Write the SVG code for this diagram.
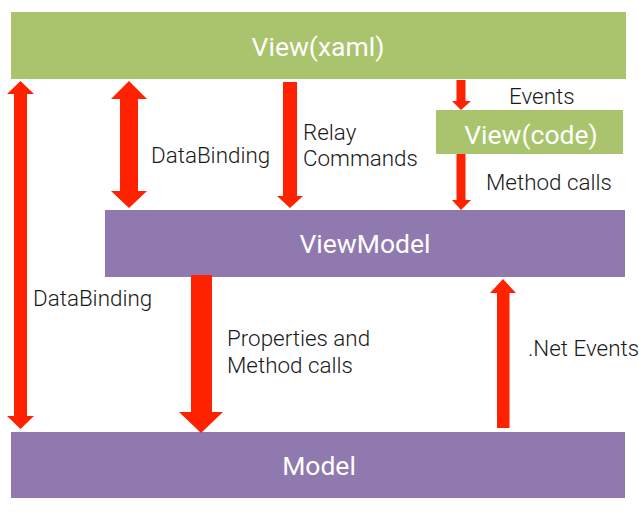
<svg xmlns="http://www.w3.org/2000/svg" width="639" height="513" viewBox="0 0 639 513">
<style>
.green{fill:#A9C46C}
.purple{fill:#9079AE}
.arrow{fill:#FF2200}
.title{font-family:Roboto,"Liberation Sans",sans-serif;font-size:26.5px;fill:#FFFFFF;text-anchor:middle}
.lbl{font-family:Roboto,"Liberation Sans",sans-serif;font-weight:300;font-size:22.4px;fill:#1a1a1a}
</style>
<rect width="639" height="513" fill="#FFFFFF"/>
<g id="view-xaml">
<rect class="green" x="11" y="12" width="615" height="67"/>
<text class="title" x="318" y="56">View(xaml)</text>
</g>
<g id="view-code">
<rect class="green" x="436" y="110" width="187" height="44"/>
<text class="title" x="531" y="144">View(code)</text>
</g>
<g id="viewmodel">
<rect class="purple" x="105" y="210" width="520" height="67"/>
<text class="title" x="365" y="253">ViewModel</text>
</g>
<g id="model">
<rect class="purple" x="11" y="432" width="614" height="66"/>
<text class="title" x="319" y="475">Model</text>
</g>
<g id="connectors">
<polygon class="arrow" points="20.5,81 34,94 27,94 27,416 34,416 20.5,429 7,416 14,416 14,94 7,94"/>
<polygon class="arrow" points="129,81 147,99 138,99 138,191 147,191 129,208 111,191 120,191 120,99 111,99"/>
<polygon class="arrow" points="283,82 297,82 297,196 303,196 290,208 277,196 283,196"/>
<polygon class="arrow" points="456.5,80 465.5,80 465.5,101 471,101 461,110 452,101 456.5,101"/>
<polygon class="arrow" points="456.5,154 465.5,154 465.5,200 471,200 461,210 452,200 456.5,200"/>
<polygon class="arrow" points="191,275 212,275 212,412 223,412 201,433 179,412 191,412"/>
<polygon class="arrow" points="497,428 509.5,428 509.5,293 516,293 503,279 490,293 497,293"/>
<text class="lbl" x="151" y="163">DataBinding</text>
<text class="lbl" x="303" y="140">Relay</text>
<text class="lbl" x="303" y="166">Commands</text>
<text class="lbl" x="509" y="104">Events</text>
<text class="lbl" x="486" y="190">Method calls</text>
<text class="lbl" x="33" y="306">DataBinding</text>
<text class="lbl" x="227" y="346">Properties and</text>
<text class="lbl" x="227" y="373">Method calls</text>
<text class="lbl" x="528" y="356">.Net Events</text>
</g>
</svg>
